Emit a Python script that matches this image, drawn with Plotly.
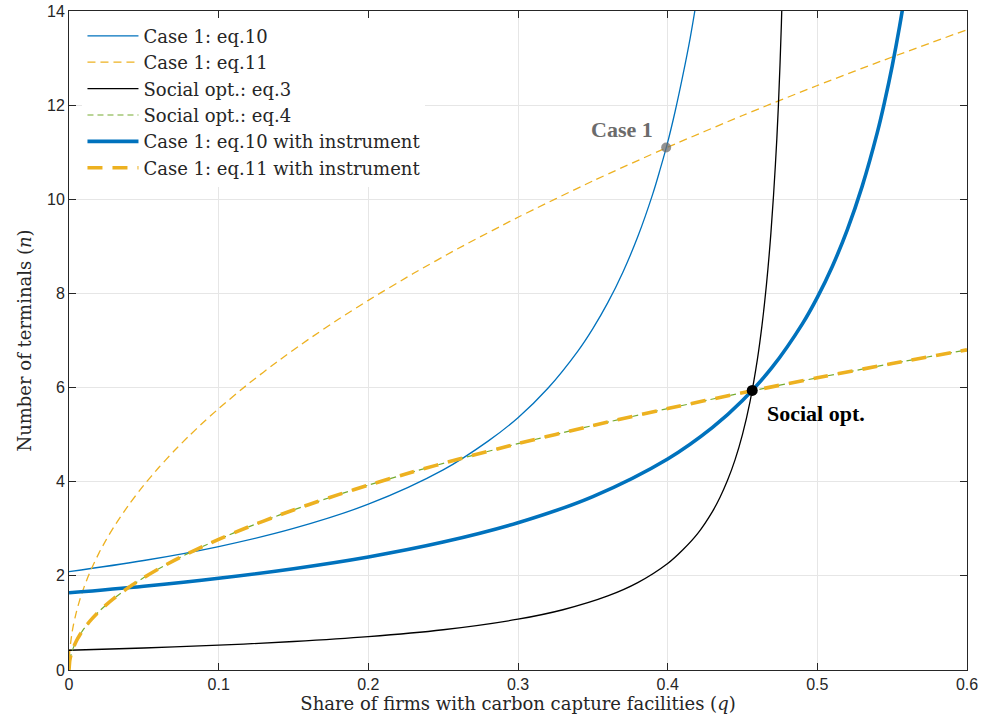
import plotly.graph_objects as go

# Case 1: eq.11 (thin dashed orange)
q_eq11 = [0, 0.0005, 0.001, 0.002, 0.003, 0.005, 0.0075, 0.01, 0.0125, 0.015, 0.02, 0.025, 0.03, 0.04, 0.05, 0.06, 0.07, 0.08, 0.09, 0.1, 0.12, 0.14, 0.16, 0.18, 0.2, 0.23, 0.26, 0.3, 0.35, 0.4, 0.45, 0.5, 0.55, 0.6]
n_eq11 = [0, 0.393, 0.555, 0.785, 0.962, 1.242, 1.521, 1.756, 1.963, 2.151, 2.483, 2.776, 3.041, 3.512, 3.927, 4.301, 4.646, 4.967, 5.268, 5.553, 6.083, 6.570, 7.024, 7.450, 7.853, 8.422, 8.954, 9.618, 10.389, 11.106, 11.780, 12.417, 13.023, 13.602]

# Social opt.: eq.4 and Case 1: eq.11 with instrument (same curve)
q_eq4 = [0, 0.0005, 0.001, 0.002, 0.003, 0.005, 0.0075, 0.01, 0.0125, 0.015, 0.02, 0.025, 0.03, 0.04, 0.05, 0.06, 0.07, 0.08, 0.09, 0.1, 0.12, 0.14, 0.16, 0.18, 0.2, 0.23, 0.26, 0.3, 0.35, 0.4, 0.45, 0.5, 0.55, 0.6]
n_eq4 = [0, 0.196, 0.278, 0.393, 0.481, 0.621, 0.760, 0.878, 0.982, 1.075, 1.242, 1.388, 1.521, 1.756, 1.963, 2.151, 2.323, 2.483, 2.634, 2.776, 3.041, 3.285, 3.512, 3.725, 3.927, 4.211, 4.477, 4.809, 5.194, 5.553, 5.890, 6.208, 6.511, 6.801]

# Case 1: eq.10 (thin blue)
q_eq10 = [0, 0.05, 0.1, 0.15, 0.2, 0.25, 0.28, 0.3, 0.32, 0.34, 0.35, 0.36, 0.37, 0.38, 0.39, 0.395, 0.40, 0.405, 0.41, 0.415, 0.42]
n_eq10 = [2.089, 2.326, 2.623, 3.008, 3.522, 4.251, 4.862, 5.360, 5.985, 6.775, 7.253, 7.804, 8.446, 9.203, 10.11, 10.64, 11.21, 11.87, 12.61, 13.42, 14.36]

# Social opt.: eq.3 (black)
q_eq3 = [0, 0.05, 0.1, 0.15, 0.2, 0.25, 0.3, 0.33, 0.36, 0.38, 0.40, 0.41, 0.42, 0.43, 0.435, 0.44, 0.445, 0.45, 0.455, 0.46, 0.463, 0.466, 0.469, 0.472, 0.474, 0.476, 0.477]
n_eq3 = [0.42, 0.467, 0.527, 0.605, 0.708, 0.855, 1.079, 1.280, 1.573, 1.856, 2.262, 2.549, 2.897, 3.371, 3.671, 4.029, 4.465, 5.007, 5.698, 6.611, 7.316, 8.187, 9.292, 10.745, 12.0, 13.74, 14.9]

# Case 1: eq.10 with instrument (thick blue)
q_eq10i = [0, 0.05, 0.1, 0.15, 0.2, 0.25, 0.3, 0.35, 0.4, 0.43, 0.45, 0.47, 0.49, 0.5, 0.51, 0.52, 0.53, 0.54, 0.545, 0.55, 0.555, 0.56]
n_eq10i = [1.640, 1.781, 1.949, 2.152, 2.401, 2.717, 3.128, 3.685, 4.484, 5.155, 5.725, 6.438, 7.354, 7.917, 8.574, 9.349, 10.28, 11.41, 12.08, 12.83, 13.68, 14.65]

# Highlighted points
case1_q, case1_n = [0.399], [11.1]
social_q, social_n = [0.4565], [5.94]

x_ticks = [0, 0.1, 0.2, 0.3, 0.4, 0.5, 0.6]
x_tick_labels = ["0", "0.1", "0.2", "0.3", "0.4", "0.5", "0.6"]
y_ticks = [0, 2, 4, 6, 8, 10, 12, 14]

BLUE = "#0072BD"
ORANGE = "#EDB120"
GREEN = "#77AC30"
SERIF = "DejaVu Serif"

fig = go.Figure()
fig.add_trace(go.Scatter(x=q_eq10, y=n_eq10, mode="lines", name="Case 1: eq.10",
                         line=dict(color=BLUE, width=1.3, shape="spline", smoothing=1)))
fig.add_trace(go.Scatter(x=q_eq11, y=n_eq11, mode="lines", name="Case 1: eq.11",
                         line=dict(color=ORANGE, width=1.3, dash="8px,5px", shape="spline", smoothing=0.6)))
fig.add_trace(go.Scatter(x=q_eq3, y=n_eq3, mode="lines", name="Social opt.: eq.3",
                         line=dict(color="black", width=1.3, shape="spline", smoothing=1)))
fig.add_trace(go.Scatter(x=q_eq4, y=n_eq4, mode="lines", name="Social opt.: eq.4",
                         line=dict(color=GREEN, width=1.2, dash="6px,4px", shape="spline", smoothing=0.6)))
fig.add_trace(go.Scatter(x=q_eq10i, y=n_eq10i, mode="lines", name="Case 1: eq.10 with instrument",
                         line=dict(color=BLUE, width=3.6, shape="spline", smoothing=1)))
fig.add_trace(go.Scatter(x=q_eq4, y=n_eq4, mode="lines", name="Case 1: eq.11 with instrument",
                         line=dict(color=ORANGE, width=3.6, dash="15px,10px", shape="spline", smoothing=0.6)))
fig.add_trace(go.Scatter(x=case1_q, y=case1_n, mode="markers", showlegend=False,
                         marker=dict(color="rgba(110,110,110,0.75)", size=10)))
fig.add_trace(go.Scatter(x=social_q, y=social_n, mode="markers", showlegend=False,
                         marker=dict(color="black", size=11)))

fig.add_annotation(x=case1_q[0], y=case1_n[0], text="<b>Case 1</b>", showarrow=False,
                   xanchor="right", yanchor="middle", xshift=-11, yshift=18,
                   font=dict(family="Liberation Serif", size=22, color="#6b6b6b"))
fig.add_annotation(x=social_q[0], y=social_n[0], text="<b>Social opt.</b>", showarrow=False,
                   xanchor="left", yanchor="middle", xshift=13, yshift=-23,
                   font=dict(family="Liberation Serif", size=22, color="black"))

axis_common = dict(showline=True, linecolor="#262626", linewidth=1, mirror="ticks",
                   ticks="inside", ticklen=7, tickcolor="#262626",
                   showgrid=True, gridcolor="#e6e6e6", gridwidth=1, zeroline=False,
                   automargin=False,
                   tickfont=dict(family="Liberation Sans", size=16, color="#262626"))

fig.update_xaxes(range=[0, 0.6], tickvals=x_ticks, ticktext=x_tick_labels,
                 title=dict(text="Share of firms with carbon capture facilities (<i>q</i>)",
                            font=dict(family=SERIF, size=18, color="#262626"),
                            standoff=2),
                 **axis_common)
fig.update_yaxes(range=[0, 14], tickvals=y_ticks,
                 title=dict(text="Number of terminals (<i>n</i>)",
                            font=dict(family=SERIF, size=18, color="#262626"),
                            standoff=10),
                 **axis_common)

fig.update_layout(width=984, height=725,
                  margin=dict(l=69, r=17, t=11, b=55),
                  plot_bgcolor="white", paper_bgcolor="white",
                  showlegend=True, hovermode=False,
                  legend=dict(x=0.015, y=0.99, xanchor="left", yanchor="top",
                              bgcolor="rgba(255,255,255,1)", borderwidth=0,
                              font=dict(family=SERIF, size=18, color="#262626"),
                              tracegroupgap=0, itemwidth=51))

fig.write_html("out.html", config={"displayModeBar": False},
               post_script="document.body.style.margin='0';")
